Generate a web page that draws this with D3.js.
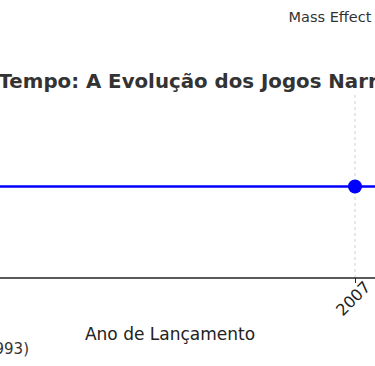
<!DOCTYPE html>
<html>
<head>
<meta charset="utf-8">
<script src="https://cdn.jsdelivr.net/npm/d3@7"></script>
<style>
  body { margin: 0; background: #fff; }
  svg { display: block; font-family: "DejaVu Sans", sans-serif; }
</style>
</head>
<body>
<div id="chart-area"></div>
<script>
// Games on the timeline (only part of the timeline is in view)
var games = ["Myst", "Grim Fandango", "Shenmue", "Half-Life 2", "Mass Effect", "Heavy Rain"];
var years = [1993, 1998, 2000, 2004, 2007, 2010];
var level = [1, 1, 1, 1, 1, 1];
var tickYears = [2004, 2007];

var titleText = "Linha do Tempo: A Evolução dos Jogos Narrativos";
var xLabel = "Ano de Lançamento";
var noteText = "Myst (1993)";

var width = 375, height = 366;
var top_ = 95, bottom = 278;

var svg = d3.select("#chart-area")
    .append("svg")
        .attr("width", width)
        .attr("height", height);

var data = games.map(function(g, i) {
    return { name: g, year: years[i], value: level[i] };
});

// X Scale (view is a window of a wider chart)
var x = d3.scaleLinear()
    .domain([2004, 2007])
    .range([-18, 355]);

// Y Scale
var y = d3.scaleLinear()
    .domain([0, 2])
    .range([bottom, top_]);

// grid lines
svg.selectAll("line.grid")
    .data(tickYears)
    .enter()
    .append("line")
        .attr("class", "grid")
        .attr("x1", function(d){ return x(d); })
        .attr("x2", function(d){ return x(d); })
        .attr("y1", top_)
        .attr("y2", bottom)
        .attr("stroke", "#d0d0d0")
        .attr("stroke-width", 1)
        .attr("stroke-dasharray", "3,3");

// the line
var line = d3.line()
    .x(function(d){ return x(d.year); })
    .y(function(d){ return y(d.value); });

svg.append("path")
    .datum(data)
    .attr("d", line)
    .attr("fill", "none")
    .attr("stroke", "#0000ff")
    .attr("stroke-width", 2.5);

svg.selectAll("circle")
    .data(data)
    .enter()
    .append("circle")
        .attr("cx", function(d){ return x(d.year); })
        .attr("cy", function(d){ return y(d.value); })
        .attr("r", 7)
        .attr("fill", "#0000ff");

// X Axis
var xAxisCall = d3.axisBottom(x)
    .tickValues(tickYears)
    .tickFormat(d3.format("d"))
    .tickSize(5)
    .tickSizeOuter(0);

var xAxis = svg.append("g")
    .attr("class", "x axis")
    .attr("transform", "translate(0," + bottom + ")")
    .call(xAxisCall);

xAxis.select(".domain")
    .attr("d", "M0,0H" + width)
    .attr("stroke", "#222")
    .attr("stroke-width", 1.5);
xAxis.selectAll(".tick line").attr("stroke", "#222");
xAxis.selectAll(".tick text")
    .attr("font-size", "16px")
    .attr("font-family", "DejaVu Sans")
    .attr("fill", "#222")
    .attr("text-anchor", "end")
    .attr("y", 0)
    .attr("dy", 0)
    .attr("transform", "translate(16,10) rotate(-45)");

// X Label
svg.append("text")
    .attr("x", 170)
    .attr("y", 340)
    .attr("font-size", "17px")
    .attr("text-anchor", "middle")
    .attr("fill", "#222")
    .text(xLabel);

// note at the bottom
svg.append("text")
    .attr("x", 29)
    .attr("y", 354)
    .attr("font-size", "15px")
    .attr("text-anchor", "end")
    .attr("fill", "#333")
    .text(noteText);

// annotation for the visible game
svg.selectAll("text.annot")
    .data(data.filter(function(d){ return d.name == "Mass Effect"; }))
    .enter()
    .append("text")
        .attr("class", "annot")
        .attr("x", function(d){ return x(d.year) - 25; })
        .attr("y", 22)
        .attr("font-size", "14.5px")
        .attr("text-anchor", "middle")
        .attr("fill", "#333")
        .text(function(d){ return d.name; });

// Title: shifted so that "Tempo" starts at the left edge
var title = svg.append("text")
    .attr("y", 88)
    .attr("font-size", "19.8px")
    .attr("font-weight", "bold")
    .attr("fill", "#333")
    .text(titleText);
var prefixLen = title.node().getSubStringLength(0, titleText.indexOf("Tempo"));
title.attr("x", -prefixLen - 1.5);
</script>
</body>
</html>
